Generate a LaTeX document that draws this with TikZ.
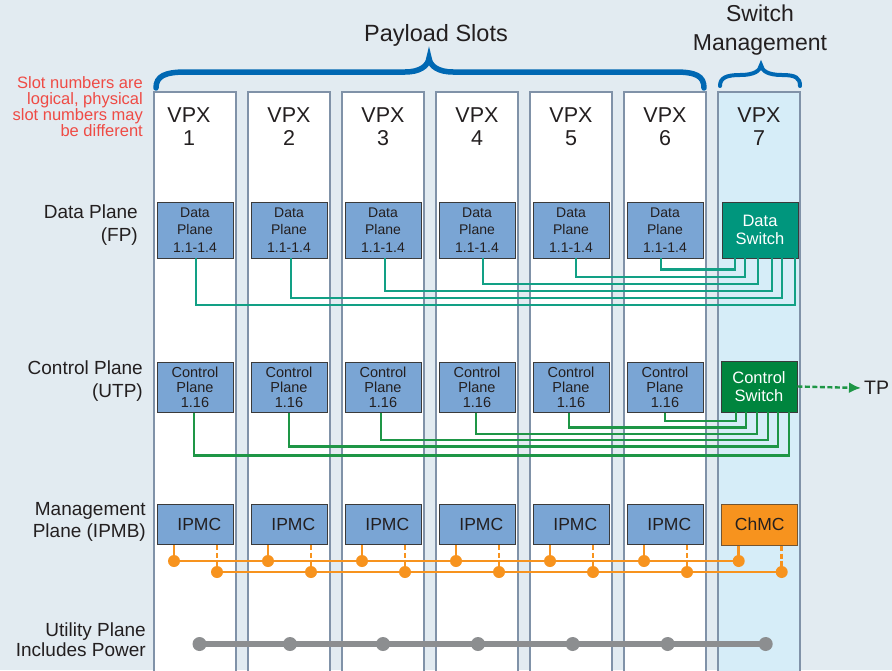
\documentclass[tikz,border=0pt]{standalone}
\usepackage{fontspec}
\setmainfont{Liberation Sans}
\usetikzlibrary{arrows.meta}
\definecolor{bg}{HTML}{E2EBF1}
\definecolor{slotborder}{HTML}{8092A8}
\definecolor{slotseven}{HTML}{D6EDF8}
\definecolor{boxblue}{HTML}{7AA5D4}
\definecolor{boxborder}{HTML}{3A3A3A}
\definecolor{dsgreen}{HTML}{00967D}
\definecolor{csgreen}{HTML}{00853E}
\definecolor{dlinec}{HTML}{12A085}
\definecolor{clinec}{HTML}{1E9646}
\definecolor{ipmbc}{HTML}{F7931E}
\definecolor{utilc}{HTML}{8C8E90}
\definecolor{notered}{HTML}{EF4B45}
\definecolor{braceblue}{HTML}{0068B3}
\definecolor{txt}{HTML}{231F20}
\begin{document}
\begin{tikzpicture}[x=1pt,y=-1pt,
  slotbox/.style={draw=slotborder,line width=1.8pt,fill=white,minimum width=82pt,minimum height=600pt,inner sep=0pt},
  vpx/.style={align=center,inner sep=0pt,text=txt,font=\fontsize{21.5}{23}\selectfont},
  pbox/.style={draw=boxborder,line width=0.9pt,fill=boxblue,minimum width=76pt,inner sep=0pt,align=center,text=txt},
  dpbox/.style={pbox,minimum height=56pt,font=\fontsize{14}{17.5}\selectfont},
  cpbox/.style={pbox,minimum height=50pt,font=\fontsize{14.5}{15.3}\selectfont},
  ipbox/.style={pbox,minimum height=40pt,font=\fontsize{17.5}{20}\selectfont},
  swbox/.style={draw=boxborder,line width=0.9pt,minimum width=76pt,inner sep=0pt,align=center,text=white,font=\fontsize{16.5}{18.3}\selectfont},
  lbl/.style={anchor=east,align=right,inner sep=0pt,text=txt,font=\fontsize{19}{23}\selectfont},
  dline/.style={draw=dlinec,line width=2.1pt},
  cline/.style={draw=clinec,line width=2.1pt},
  ipmb/.style={draw=ipmbc,line width=2.8pt},
  ipdot/.style={fill=ipmbc},
  bracestyle/.style={draw=braceblue,line width=5.5pt,line cap=round,line join=miter}
]
\fill[bg] (0,0) rectangle (892,670);
\useasboundingbox (0,0) rectangle (892,670);

% slots
\foreach \i in {1,...,6}{
  \node[slotbox] (s\i) at ({195+94*(\i-1)},392) {};
}
\node[slotbox,fill=slotseven] (s7) at (759,392) {};

% slot labels
\node[vpx] (v1) at (189,127) {VPX\\1};
\foreach \i in {2,...,7}{
  \node[vpx] (v\i) at ({195+94*(\i-1)},127) {VPX\\\i};
}

% top labels and braces
\node[inner sep=0pt,text=txt,font=\fontsize{23.5}{28}\selectfont] (payload) at (436,35) {Payload Slots};
\node[inner sep=0pt,align=center,text=txt,font=\fontsize{23}{29}\selectfont] (swmgmt) at (760,30) {Switch\\Management};
\draw[bracestyle] (156,88) .. controls (156,76) and (165,72) .. (186,72) -- (405,72)
   .. controls (420,72) and (428,66) .. (429,58)
   .. controls (430,66) and (438,72) .. (453,72) -- (675,72)
   .. controls (696,72) and (704,76) .. (704,88);
\draw[bracestyle,line width=4pt] (720,86) .. controls (720,78) and (726,75) .. (740,75)
   .. controls (754,75) and (760,71) .. (761,65)
   .. controls (762,71) and (768,75) .. (782,75)
   .. controls (796,75) and (800,78) .. (800,86);

% red note
\node[anchor=east,align=right,inner sep=0pt,text=notered,font=\fontsize{16.5}{15.3}\selectfont] (note) at (143,107)
  {Slot numbers are\\logical, physical\\slot numbers may\\be different};

% left labels
\node[lbl] (lDP) at (138,225) {Data Plane\\(FP)};
\node[lbl] (lCP) at (143,381.5) {Control Plane\\(UTP)};
\node[lbl,font=\fontsize{19}{22}\selectfont] (lMP) at (146,522) {Management\\Plane (IPMB)};
\node[lbl,font=\fontsize{19}{20}\selectfont] (lUP) at (146,640) {Utility Plane\\Includes Power};

% data plane
\foreach \i in {1,...,6}{
  \node[dpbox] (d\i) at ({195+94*(\i-1)},230) {Data\\Plane\\1.1-1.4};
}
\node[swbox,fill=dsgreen,minimum height=56pt] (ds) at (760,230) {Data\\Switch};

\draw[dline] ([xshift=1pt]d1.south) -- ++(0,46.7) -| ([xshift=35pt]ds.south);
\draw[dline] ([xshift=2pt]d2.south) -- ++(0,39.7) -| ([xshift=22pt]ds.south);
\draw[dline] ([xshift=2pt]d3.south) -- ++(0,32.7) -| ([xshift=12pt]ds.south);
\draw[dline] ([xshift=6pt]d4.south) -- ++(0,25.7) -| ([xshift=-2pt]ds.south);
\draw[dline] ([xshift=5pt]d5.south) -- ++(0,18.7) -| ([xshift=-15pt]ds.south);
\draw[dline] ([xshift=-4pt]d6.south) -- ++(0,11) -| ([xshift=-25pt]ds.south);

% control plane
\foreach \i in {1,...,6}{
  \node[cpbox] (c\i) at ({195+94*(\i-1)},387.5) {Control\\Plane\\1.16};
}
\node[swbox,fill=csgreen,minimum height=51pt] (cs) at (759,386.5) {Control\\Switch};

\draw[cline] ([xshift=-1pt]c1.south) -- ++(0,42.5) -| ([xshift=30.3pt]cs.south);
\draw[cline] (c2.south) -- ++(0,33.5) -| ([xshift=19.3pt]cs.south);
\draw[cline] ([xshift=-2pt]c3.south) -- ++(0,26.8) -| ([xshift=8.7pt]cs.south);
\draw[cline] ([xshift=-1pt]c4.south) -- ++(0,20.8) -| ([xshift=-1.7pt]cs.south);
\draw[cline] ([xshift=-2.3pt]c5.south) -- ++(0,14.5) -| ([xshift=-13pt]cs.south);
\draw[cline] (c6.south) -- ++(0,8.2) -| ([xshift=-23pt]cs.south);

\node[inner sep=3pt,text=txt,font=\fontsize{19.5}{22}\selectfont,anchor=west] (tp) at (861,388) {TP};
\draw[draw=clinec,line width=2.4pt,dash pattern=on 5pt off 2.5pt,-{Latex[length=12pt,width=11pt]}] (cs.east) -- (tp.west);

% management plane
\foreach \i in {1,...,6}{
  \node[ipbox] (i\i) at ({195+94*(\i-1)},524.5) {\hspace*{8.6pt}IPMC};
}
\node[ipbox,fill=ipmbc,draw=boxborder!70!ipmbc,minimum height=41pt] (i7) at (759.7,524.7) {ChMC};

\foreach \i in {1,...,7}{
  \path ([xshift=-21pt]i\i.south) coordinate (ta\i);
  \path ([xshift=22pt]i\i.south) coordinate (tb\i);
  \coordinate (a\i) at (ta\i |- 0,561);
  \coordinate (b\i) at (tb\i |- 0,572);
}
\draw[ipmb] (a1) -- (a7);
\draw[ipmb] (b1) -- (b7);
\foreach \i in {1,...,7}{
  \draw[ipmb] (ta\i) -- (a\i);
  \draw[ipmb,dash pattern=on 5pt off 3pt on 5pt off 2pt on 20pt off 0pt] (tb\i) -- (b\i);
  \fill[ipdot] (a\i) circle (6pt);
  \fill[ipdot] (b\i) circle (6pt);
}

% utility plane
\coordinate (u1) at (199.5,644);
\coordinate (u2) at (290,644);
\coordinate (u3) at (383,644);
\coordinate (u4) at (478,644);
\coordinate (u5) at (572.7,644);
\coordinate (u6) at (667.7,644);
\coordinate (u7) at (765.7,644);
\draw[draw=utilc,line width=5.5pt] (u1) -- (u7);
\foreach \i in {1,...,7}{
  \fill[utilc] (u\i) circle (7pt);
}
\end{tikzpicture}
\end{document}
